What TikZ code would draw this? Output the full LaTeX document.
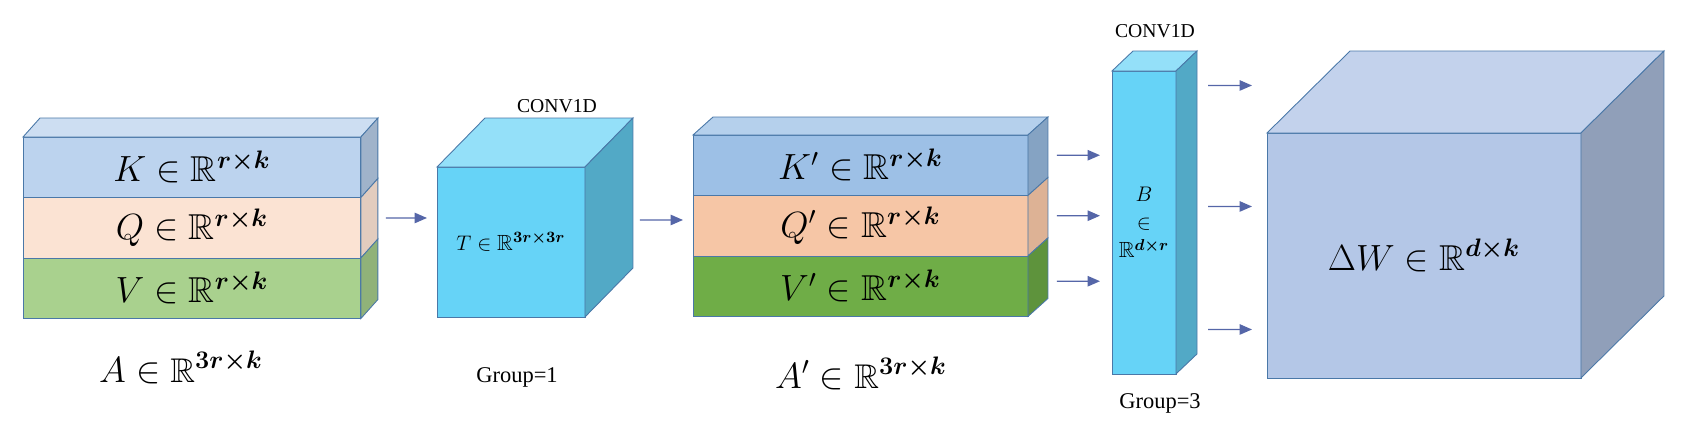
\documentclass[tikz,border=0pt]{standalone}
\usepackage{fontspec}
\setmainfont{Liberation Serif}
\usepackage{amssymb}
\usepackage{bm}
\usetikzlibrary{positioning,calc,arrows.meta}

\definecolor{edgeblue}{HTML}{4A78A8}
\definecolor{arrowblue}{HTML}{5566A8}
\definecolor{kfront}{HTML}{BCD3EE}
\definecolor{qfront}{HTML}{FBE3D3}
\definecolor{vfront}{HTML}{A9D18E}
\definecolor{kkfront}{HTML}{9DC0E6}
\definecolor{qqfront}{HTML}{F6C6A6}
\definecolor{vvfront}{HTML}{6FAD47}
\definecolor{convfront}{HTML}{66D3F7}
\definecolor{wfront}{HTML}{B4C7E7}

% top and side faces of a box whose front is node #1
\newcommand{\boxtop}[4]{%
  \filldraw[draw=edgeblue, line width=0.5pt, fill=#4] (#1.north west) -- ++(#2,#3) -- ($(#1.north east)+(#2,#3)$) -- (#1.north east) -- cycle;}
\newcommand{\boxside}[4]{%
  \filldraw[draw=edgeblue, line width=0.5pt, fill=#4] (#1.north east) -- ++(#2,#3) -- ($(#1.south east)+(#2,#3)$) -- (#1.south east) -- cycle;}

\tikzset{
  front/.style={draw=edgeblue, line width=0.5pt, inner sep=0pt, outer sep=0pt, anchor=north west},
  slab/.style={front, minimum height=1.21cm, font=\fontsize{20.5}{24}\selectfont},
  flow/.style={draw=arrowblue, line width=0.8pt, -{Triangle[length=0.25cm,width=0.21cm]}},
  biglabel/.style={anchor=base, font=\fontsize{19.5}{23}\selectfont},
  convlabel/.style={anchor=base, font=\fontsize{11.2}{13}\selectfont},
  grouplabel/.style={anchor=base, font=\fontsize{12.8}{15}\selectfont},
}

\begin{document}
\begin{tikzpicture}[x=0.02cm, y=-0.02cm]
  \useasboundingbox (0,0) rectangle (1684,423);

  % A = [K; Q; V]
  \node[slab, fill=kfront, minimum width=6.76cm] (K) at (23,137) {$K \in \mathbb{R}^{\bm{r\times k}}$};
  \node[slab, fill=qfront, minimum width=6.76cm, below=0pt of K] (Q) {$Q \in \mathbb{R}^{\bm{r\times k}}$};
  \node[slab, fill=vfront, minimum width=6.76cm, below=0pt of Q] (V) {$V \in \mathbb{R}^{\bm{r\times k}}$};
  \boxtop{K}{17}{-19}{kfront!75!white}
  \boxside{K}{17}{-19}{kfront!85!black}
  \boxside{Q}{17}{-19}{qfront!90!black}
  \boxside{V}{17}{-19}{vfront!85!black}
  \node[biglabel] (Alab) at (181,382) {$A \in \mathbb{R}^{\bm{3r\times k}}$};

  % T
  \node[front, fill=convfront, minimum width=2.96cm, minimum height=3cm, font=\fontsize{12.5}{15}\selectfont] (T) at (437,167) {$T \in \mathbb{R}^{\bm{3r\times 3r}}$};
  \boxtop{T}{48}{-49}{convfront!70!white}
  \boxside{T}{48}{-49}{convfront!80!black}
  \node[convlabel] (Tconv) at (557,112) {CONV1D};
  \node[grouplabel] (Tgroup) at (517,382) {Group=1};

  % A' = [K'; Q'; V']
  \node[slab, fill=kkfront, minimum width=6.7cm] (K2) at (693,135) {$K' \in \mathbb{R}^{\bm{r\times k}}$};
  \node[slab, fill=qqfront, minimum width=6.7cm, below=0pt of K2] (Q2) {$Q' \in \mathbb{R}^{\bm{r\times k}}$};
  \node[slab, fill=vvfront, minimum width=6.7cm, below=0pt of Q2] (V2) {$V' \in \mathbb{R}^{\bm{r\times k}}$};
  \boxtop{K2}{20}{-18}{kkfront!75!white}
  \boxside{K2}{20}{-18}{kkfront!85!black}
  \boxside{Q2}{20}{-18}{qqfront!90!black}
  \boxside{V2}{20}{-18}{vvfront!85!black}
  \node[biglabel] (A2lab) at (861,388) {$A' \in \mathbb{R}^{\bm{3r\times k}}$};

  % B
  \node[front, fill=convfront, minimum width=1.28cm, minimum height=6.06cm, align=center, font=\fontsize{12.5}{16}\selectfont] (B) at (1112,71) {$B$\\$\in$\\$\mathbb{R}^{\bm{d\times r}}$};
  \boxtop{B}{21}{-20}{convfront!70!white}
  \boxside{B}{21}{-20}{convfront!80!black}
  \node[convlabel] (Bconv) at (1155,37) {CONV1D};
  \node[grouplabel] (Bgroup) at (1160,408) {Group=3};

  % Delta W
  \node[front, fill=wfront, minimum width=6.28cm, minimum height=4.9cm, font=\fontsize{20.5}{24}\selectfont] (W) at (1267,133) {$\Delta W \in \mathbb{R}^{\bm{d\times k}}$};
  \boxtop{W}{83}{-82}{wfront!80!white}
  \boxside{W}{83}{-82}{wfront!80!black}

  % arrows
  \draw[flow] ($(Q.east)+(25,-9.75)$) -- ($(T.west)+(-10,-24)$);
  \draw[flow] ($(T.east)+(55,-22)$) -- ($(Q2.west)+(-10,-5.75)$);
  \draw[flow] ($(K2.east)+(29,-10)$) -- ($(B.west)+(-12,-67.25)$);
  \draw[flow] ($(Q2.east)+(29,-10)$) -- ($(B.west)+(-12,-6.75)$);
  \draw[flow] ($(V2.east)+(29,-5)$) -- ($(B.west)+(-12,58.75)$);
  \draw[flow] ($(B.east)+(32,-137)$) -- ($(W.west)+(-15,-170)$);
  \draw[flow] ($(B.east)+(32,-16)$) -- ($(W.west)+(-15,-49)$);
  \draw[flow] ($(B.east)+(32,107)$) -- ($(W.west)+(-15,74)$);
\end{tikzpicture}
\end{document}
